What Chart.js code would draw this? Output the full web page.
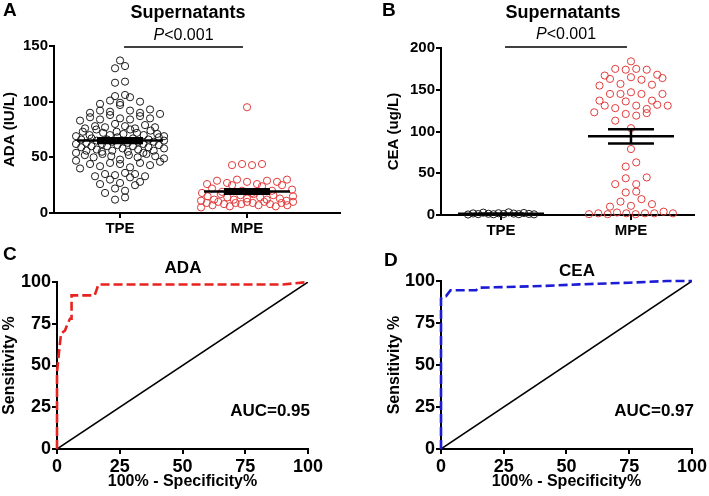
<!DOCTYPE html>
<html>
<head>
<meta charset="utf-8">
<script src="https://cdn.jsdelivr.net/npm/chart.js@4.4.1/dist/chart.umd.min.js"></script>
<style>
  body { margin: 0; background: #fff; }
  #wrap { position: relative; width: 709px; height: 496px; }
  canvas { position: absolute; }
</style>
</head>
<body>
<div id="wrap">
  <canvas id="panelA" width="354" height="240" style="left:0;top:0"></canvas>
  <canvas id="panelB" width="355" height="240" style="left:354px;top:0"></canvas>
  <canvas id="panelC" width="354" height="256" style="left:0;top:240px"></canvas>
  <canvas id="panelD" width="355" height="256" style="left:354px;top:240px"></canvas>
</div>
<script>
var groups = ['TPE', 'MPE'];

// ADA in supernatants (IU/L)
var adaTPE = [137, 132, 130, 118, 117,
  106, 105, 104, 101, 100, 99, 98, 97,
  93, 92, 92, 91, 90, 90, 89, 88, 87, 86, 85, 85, 84, 84, 83,
  80, 79, 78, 78, 77, 77, 76, 76, 75, 75, 74, 73, 73, 72, 72, 71, 71, 70, 70, 70,
  69, 69, 68, 68, 67, 67, 66, 66, 66, 65, 65, 65, 64, 64, 64, 63, 63, 62, 62, 62, 61, 61, 60, 60, 60,
  59, 59, 58, 58, 57, 57, 56, 56, 56, 55, 55, 54, 54, 53, 53, 52, 52, 51, 51, 50, 50,
  49, 48, 47, 46, 45, 45, 44, 44, 43, 42, 41, 40,
  36, 35, 35, 34, 33, 33, 32, 30,
  28, 27, 26, 25, 22, 20, 18, 14, 12];
var adaMPE = [95, 44, 43, 43, 44,
  29, 28, 30, 30, 29, 28, 27, 26, 26, 25, 25, 24,
  22, 21, 20, 20, 19, 18, 18, 17, 17, 16, 16, 15, 15, 14, 14, 13, 13, 12, 12, 12,
  11, 11, 10, 10, 10, 9, 9, 9, 8, 8, 7, 7, 6, 5, 6, 7, 8, 9, 10];

// CEA in supernatants (ug/L)
var ceaTPE = [0.8, 1.2, 1.5, 0.6, 2.1, 1.0, 2.8, 1.7, 0.9, 1.3, 2.4, 1.1, 1.9, 3.2];
var ceaMPE = [184, 175, 174, 175, 168, 165, 163, 162, 164, 167, 174,
  156, 155, 157, 145, 145, 145, 145, 147,
  137, 136, 132, 131, 131, 131, 137, 128, 127, 123, 119, 121, 122,
  113, 104, 79, 63, 58, 44, 37, 37, 45, 28, 27, 19, 16, 13, 10, 11,
  4, 3, 2, 1, 1, 2, 2, 2, 2, 1];

// ROC curves (100% - specificity, sensitivity)
var adaFpr = [0, 0, 0.8, 1.6, 3.2, 4.2, 5.2, 5.8, 5.8, 15, 15.7, 16.5, 90, 100];
var adaSens = [0, 46, 58, 69, 71, 75, 78, 78, 92, 92, 95, 98.5, 98.5, 100];
var ceaFpr = [0, 0, 1.2, 2, 3.8, 14, 15, 40, 55, 75, 90, 100];
var ceaSens = [0, 89.7, 91, 91, 94.5, 94.5, 96, 97, 98, 99, 100, 100];
var diagonal = [0, 100];
var rocTicks = [0, 25, 50, 75, 100];

var FONT = "'Liberation Sans', Arial, Helvetica, sans-serif";
Chart.defaults.font.family = FONT;
Chart.defaults.color = '#000';

// scatter dot layout: bin values into rows, spread each row sideways around the group
function swarm(values, center, rowH, pxPerX, maxHalf, maxGap) {
  var rows = {};
  values.slice().sort(function (a, b) { return a - b; }).forEach(function (v) {
    var r = Math.round(v / rowH);
    (rows[r] = rows[r] || []).push(v);
  });
  var pts = [];
  Object.keys(rows).forEach(function (r) {
    var row = rows[r], n = row.length;
    var gap = n > 1 ? Math.min(maxGap, 2 * maxHalf / (n - 1)) : 0;
    var order = row.map(function (v, i) { return i; })
      .sort(function (a, b) { return (a * 0.618034) % 1 - (b * 0.618034) % 1; });
    order.forEach(function (slot, i) {
      pts.push({ x: center + (slot - (n - 1) / 2) * gap / pxPerX, y: row[i] });
    });
  });
  return pts;
}

function stats(v) {
  var m = v.reduce(function (a, b) { return a + b; }, 0) / v.length;
  var ss = v.reduce(function (a, b) { return a + (b - m) * (b - m); }, 0);
  return { mean: m, sem: Math.sqrt(ss / (v.length - 1)) / Math.sqrt(v.length) };
}

var meanSem = {
  id: 'meanSem',
  afterDatasetsDraw: function (chart) {
    var ctx = chart.ctx, xs = chart.scales.x, ys = chart.scales.y;
    ctx.save();
    ctx.strokeStyle = '#000';
    ctx.lineWidth = 2.5;
    chart.data.datasets.forEach(function (ds, i) {
      var s = stats(ds.values);
      var cx = xs.getPixelForValue(i + 1);
      var ym = ys.getPixelForValue(s.mean);
      var yh = ys.getPixelForValue(s.mean + s.sem);
      var yl = ys.getPixelForValue(s.mean - s.sem);
      ctx.beginPath();
      ctx.moveTo(cx - 43, ym); ctx.lineTo(cx + 43, ym);
      ctx.moveTo(cx - 23, yh); ctx.lineTo(cx + 23, yh);
      ctx.moveTo(cx - 23, yl); ctx.lineTo(cx + 23, yl);
      ctx.moveTo(cx, yh); ctx.lineTo(cx, yl);
      ctx.stroke();
    });
    ctx.restore();
  }
};

function decor(items, bracket) {
  return {
    id: 'decor',
    afterDraw: function (chart) {
      var ctx = chart.ctx;
      ctx.save();
      ctx.fillStyle = '#000';
      ctx.textBaseline = 'middle';
      items.forEach(function (t) {
        ctx.font = t.font + ' ' + FONT;
        ctx.textAlign = t.align;
        ctx.fillText(t.text, t.x, t.y);
      });
      if (bracket) {
        var xs = chart.scales.x;
        var x1 = xs.getPixelForValue(1) + 4, x2 = xs.getPixelForValue(2) - 4;
        ctx.strokeStyle = '#000';
        ctx.lineWidth = 1.5;
        ctx.beginPath();
        ctx.moveTo(x1, bracket.y); ctx.lineTo(x2, bracket.y);
        ctx.stroke();
        ctx.font = 'italic 16px ' + FONT;
        var wp = ctx.measureText('P').width;
        ctx.font = '16px ' + FONT;
        var wr = ctx.measureText(bracket.text).width;
        var sx = (x1 + x2) / 2 - (wp + wr) / 2;
        ctx.textAlign = 'left';
        ctx.font = 'italic 16px ' + FONT;
        ctx.fillText('P', sx, bracket.textY);
        ctx.font = '16px ' + FONT;
        ctx.fillText(bracket.text, sx + wp, bracket.textY);
      }
      ctx.restore();
    }
  };
}

function axisBase(o) {
  return {
    type: 'linear',
    grid: { drawOnChartArea: false, tickLength: 5, color: '#000', lineWidth: 2 },
    border: { color: '#000', width: 2 },
    ticks: { font: { size: o.tickSize, weight: 'bold' }, color: '#000', padding: o.tickPad, maxRotation: 0, autoSkip: false }
  };
}

function dotChart(id, o) {
  var x = axisBase({ tickSize: 15, tickPad: 2 });
  x.min = o.xMin; x.max = o.xMax;
  x.afterBuildTicks = function (s) { s.ticks = [{ value: 1 }, { value: 2 }]; };
  x.afterFit = function (s) { s.height = o.xH; };
  x.ticks.callback = function (v) { return groups[v - 1]; };
  var y = axisBase({ tickSize: 15, tickPad: 1 });
  y.min = 0; y.max = o.yMax;
  y.ticks.stepSize = o.yStep;
  y.afterFit = function (s) { s.width = o.yW; };
  y.title = { display: true, text: o.yTitle, font: { size: 15, weight: 'bold' }, padding: { top: o.yTitlePad, bottom: 0 } };
  var pxX = o.pxPerX, rowH = o.rowPx / o.pxPerY;
  new Chart(document.getElementById(id), {
    type: 'scatter',
    data: {
      datasets: [
        { values: o.tpe, data: swarm(o.tpe, 1, rowH, pxX, o.halfTPE, o.gap), borderColor: '#1a1a1a' },
        { values: o.mpe, data: swarm(o.mpe, 2, rowH, pxX, o.halfMPE, o.gap), borderColor: '#e23a3a' }
      ].map(function (d) {
        d.pointRadius = 3.6; d.pointBorderWidth = 1; d.backgroundColor = 'rgba(0,0,0,0)';
        d.pointBackgroundColor = 'rgba(0,0,0,0)'; d.clip = false;
        return d;
      })
    },
    options: {
      responsive: false, animation: false, devicePixelRatio: 1, events: [],
      layout: { padding: o.pad },
      plugins: { legend: { display: false }, tooltip: { enabled: false } },
      scales: { x: x, y: y }
    },
    plugins: [meanSem, decor(o.texts, o.bracket)]
  });
}

function rocChart(id, o) {
  var x = axisBase({ tickSize: 18, tickPad: 2 });
  x.min = 0; x.max = 100;
  x.afterBuildTicks = function (s) { s.ticks = rocTicks.map(function (v) { return { value: v }; }); };
  x.afterFit = function (s) { s.height = 47; };
  x.title = { display: true, text: '100% - Specificity%', font: { size: 16, weight: 'bold' }, padding: { top: 0, bottom: 5 } };
  var y = axisBase({ tickSize: 18, tickPad: 1 });
  y.min = 0; y.max = 100;
  y.afterBuildTicks = x.afterBuildTicks;
  y.afterFit = function (s) { s.width = o.yW; };
  y.title = { display: true, text: 'Sensitivity %', font: { size: 16, weight: 'bold' }, padding: { top: o.yTitlePad, bottom: 0 } };
  new Chart(document.getElementById(id), {
    type: 'scatter',
    data: {
      datasets: [
        {
          data: o.fpr.map(function (v, i) { return { x: v, y: o.sens[i] }; }),
          showLine: true, borderColor: o.color, borderWidth: 2.6, borderDash: [9, 4],
          pointRadius: 0, clip: false
        },
        {
          data: diagonal.map(function (v) { return { x: v, y: v }; }),
          showLine: true, borderColor: '#000', borderWidth: 1.5, pointRadius: 0
        }
      ]
    },
    options: {
      responsive: false, animation: false, devicePixelRatio: 1, events: [],
      layout: { padding: o.pad },
      plugins: { legend: { display: false }, tooltip: { enabled: false } },
      scales: { x: x, y: y }
    },
    plugins: [decor(o.texts, null)]
  });
}

dotChart('panelA', {
  tpe: adaTPE, mpe: adaMPE, yMax: 150, yStep: 50, yTitle: 'ADA (IU/L)', yTitlePad: 1,
  xMin: 0.48, xMax: 2.732, xH: 27, yW: 54, pxPerX: 127, pxPerY: 167 / 150,
  halfTPE: 44, halfMPE: 46, gap: 10, rowPx: 8,
  pad: { top: 46, right: 14, bottom: 0, left: 0 },
  texts: [
    { text: 'A', x: 3, y: 11, font: 'bold 19px', align: 'left' },
    { text: 'Supernatants', x: 188, y: 13, font: 'bold 18px', align: 'center' }
  ],
  bracket: { y: 47, textY: 36, text: '<0.001' }
});

dotChart('panelB', {
  tpe: ceaTPE, mpe: ceaMPE, yMax: 200, yStep: 50, yTitle: 'CEA (ug/L)', yTitlePad: 31,
  xMin: 0.538, xMax: 2.485, xH: 25, yW: 87, pxPerX: 130, pxPerY: 167 / 200,
  halfTPE: 33, halfMPE: 42, gap: 10.5, rowPx: 12,
  pad: { top: 48, right: 15, bottom: 0, left: 0 },
  texts: [
    { text: 'B', x: 28, y: 11, font: 'bold 19px', align: 'left' },
    { text: 'Supernatants', x: 209, y: 13, font: 'bold 18px', align: 'center' }
  ],
  bracket: { y: 47, textY: 35, text: '<0.001' }
});

rocChart('panelC', {
  fpr: adaFpr, sens: adaSens, color: '#e8221e', yW: 57, yTitlePad: 0,
  pad: { top: 42, right: 46, bottom: 0, left: 0 },
  texts: [
    { text: 'C', x: 3, y: 15, font: 'bold 19px', align: 'left' },
    { text: 'ADA', x: 183, y: 28, font: 'bold 17px', align: 'center' },
    { text: 'AUC=0.95', x: 310, y: 171, font: 'bold 17px', align: 'right' }
  ]
});

rocChart('panelD', {
  fpr: ceaFpr, sens: ceaSens, color: '#1c1cd6', yW: 87, yTitlePad: 31,
  pad: { top: 41, right: 15, bottom: 0, left: 0 },
  texts: [
    { text: 'D', x: 30, y: 21, font: 'bold 19px', align: 'left' },
    { text: 'CEA', x: 223, y: 31, font: 'bold 17px', align: 'center' },
    { text: 'AUC=0.97', x: 340, y: 171, font: 'bold 17px', align: 'right' }
  ]
});
</script>
</body>
</html>
